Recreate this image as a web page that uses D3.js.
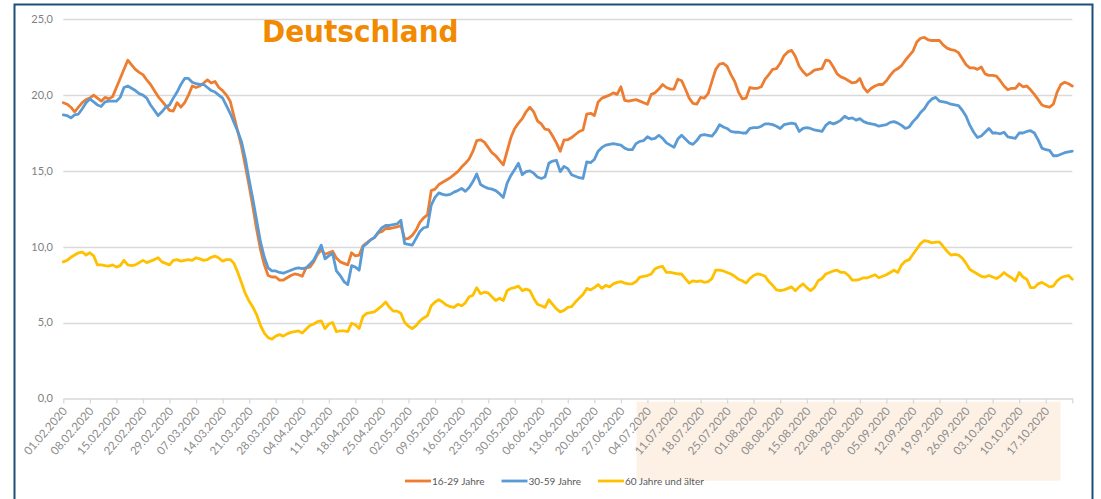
<!DOCTYPE html>
<html>
<head>
<meta charset="utf-8">
<script src="https://cdn.jsdelivr.net/npm/d3@7"></script>
<style>
  body { margin: 0; background: #fff; }
  svg { display: block; }
</style>
</head>
<body>
<svg id="chart1" width="1101" height="499"></svg>
<script>
// categories: one point per day, starting 01.02.2020
var startDate = new Date(2020, 1, 1);

var tickLabels = ["01.02.2020","08.02.2020","15.02.2020","22.02.2020","29.02.2020","07.03.2020",
	"14.03.2020","21.03.2020","28.03.2020","04.04.2020","11.04.2020","18.04.2020","25.04.2020",
	"02.05.2020","09.05.2020","16.05.2020","23.05.2020","30.05.2020","06.06.2020","13.06.2020",
	"20.06.2020","27.06.2020","04.07.2020","11.07.2020","18.07.2020","25.07.2020","01.08.2020",
	"08.08.2020","15.08.2020","22.08.2020","29.08.2020","05.09.2020","12.09.2020","19.09.2020",
	"26.09.2020","03.10.2020","10.10.2020","17.10.2020"];

var yTicks = [0, 5, 10, 15, 20, 25];

var seriesNames = ["16-29 Jahre", "30-59 Jahre", "60 Jahre und älter"];
var seriesColors = ["#ed7d31", "#5b9bd5", "#ffc000"];

var age16to29 = [
	19.5,19.4,19.2,18.9,19.2,19.5,19.7,19.8,20.0,19.8,
	19.6,19.85,19.75,19.9,20.5,21.1,21.7,22.3,22.0,21.7,
	21.5,21.35,21.0,20.7,20.3,19.9,19.6,19.3,19.0,18.95,
	19.5,19.2,19.5,20.0,20.6,20.5,20.6,20.8,21.0,20.8,
	20.9,20.5,20.3,20.0,19.6,18.6,17.6,16.6,15.3,14.0,
	12.6,11.1,9.8,8.8,8.1,8.0,8.0,7.8,7.8,7.95,
	8.1,8.2,8.15,8.05,8.6,8.65,9.0,9.5,9.8,9.5,
	9.6,9.7,9.25,9.0,8.9,8.8,9.6,9.4,9.45,10.05,
	10.25,10.45,10.6,10.9,11.0,11.2,11.2,11.25,11.3,11.4,
	10.5,10.55,10.75,11.1,11.6,11.9,12.1,13.7,13.8,14.1,
	14.25,14.4,14.55,14.75,14.95,15.25,15.5,15.8,16.3,17.0,
	17.05,16.9,16.55,16.2,16.0,15.7,15.4,16.3,17.2,17.8,
	18.15,18.45,18.9,19.2,18.9,18.3,18.1,17.75,17.7,17.3,
	16.85,16.3,17.05,17.05,17.2,17.4,17.6,17.7,18.75,18.8,
	18.65,19.55,19.8,19.9,20.0,20.15,20.05,20.55,19.65,19.6,
	19.65,19.7,19.6,19.5,19.4,20.05,20.15,20.4,20.7,20.5,
	20.4,20.4,21.05,20.95,20.4,19.8,19.45,19.4,19.85,19.8,
	20.1,20.9,21.7,22.05,22.1,21.9,21.35,20.9,20.2,19.75,
	19.8,20.5,20.45,20.45,20.55,21.05,21.35,21.7,21.75,22.1,
	22.6,22.85,22.95,22.55,21.9,21.55,21.3,21.45,21.65,21.7,
	21.75,22.3,22.25,21.85,21.4,21.2,21.1,20.95,20.8,20.85,
	21.1,20.5,20.2,20.45,20.6,20.7,20.7,20.95,21.3,21.6,
	21.75,21.95,22.3,22.6,22.9,23.5,23.75,23.8,23.65,23.6,
	23.6,23.6,23.3,23.1,23.0,22.95,22.8,22.4,22.0,21.8,
	21.8,21.7,21.85,21.4,21.3,21.3,21.25,20.95,20.6,20.35,
	20.45,20.45,20.75,20.55,20.6,20.35,20.05,19.7,19.35,19.25,
	19.2,19.4,20.2,20.7,20.85,20.75,20.6
];

var age30to59 = [
	18.7,18.65,18.5,18.7,18.75,19.1,19.5,19.75,19.55,19.35,
	19.25,19.55,19.6,19.6,19.6,19.85,20.5,20.6,20.45,20.3,
	20.1,20.0,19.8,19.35,19.0,18.65,18.9,19.2,19.35,19.8,
	20.2,20.7,21.1,21.1,20.85,20.75,20.7,20.7,20.5,20.3,
	20.2,20.0,19.8,19.3,18.8,18.2,17.6,16.9,15.8,14.4,
	13.1,11.7,10.3,9.3,8.6,8.4,8.4,8.3,8.25,8.35,
	8.45,8.55,8.6,8.55,8.6,8.85,9.1,9.6,10.1,9.2,
	9.4,9.55,8.4,8.1,7.7,7.5,8.75,8.65,8.45,10.0,
	10.2,10.45,10.6,10.95,11.25,11.4,11.4,11.45,11.5,11.75,
	10.2,10.15,10.1,10.55,11.0,11.25,11.3,12.75,13.25,13.55,
	13.45,13.4,13.45,13.6,13.7,13.85,13.65,13.9,14.3,14.8,
	14.1,13.95,13.85,13.8,13.7,13.5,13.25,14.2,14.7,15.1,
	15.5,14.75,14.95,15.0,14.85,14.6,14.5,14.6,15.5,15.65,
	15.7,14.95,15.3,15.15,14.75,14.65,14.55,14.5,15.6,15.55,
	15.75,16.3,16.55,16.7,16.75,16.8,16.75,16.7,16.5,16.4,
	16.4,16.8,16.95,17.0,17.25,17.1,17.15,17.35,17.15,16.85,
	16.7,16.55,17.1,17.35,17.1,16.85,16.75,17.0,17.35,17.4,
	17.35,17.3,17.6,18.05,17.9,17.8,17.6,17.55,17.55,17.5,
	17.5,17.8,17.85,17.85,17.95,18.1,18.1,18.05,17.95,17.8,
	18.05,18.1,18.15,18.1,17.6,17.8,17.85,17.8,17.7,17.65,
	17.6,18.0,18.2,18.1,18.2,18.35,18.6,18.45,18.5,18.35,
	18.45,18.25,18.15,18.1,18.05,17.95,18.0,18.05,18.2,18.25,
	18.15,18.0,17.8,17.9,18.25,18.5,18.85,19.1,19.5,19.75,
	19.85,19.6,19.55,19.5,19.4,19.35,19.3,19.0,18.6,18.0,
	17.55,17.2,17.3,17.55,17.8,17.5,17.5,17.45,17.55,17.25,
	17.2,17.15,17.5,17.5,17.6,17.65,17.5,17.05,16.5,16.4,
	16.35,16.0,16.0,16.1,16.2,16.25,16.3
];

var age60plus = [
	9.0,9.1,9.3,9.45,9.6,9.65,9.45,9.6,9.4,8.8,
	8.8,8.75,8.72,8.8,8.65,8.75,9.1,8.8,8.75,8.8,
	8.95,9.1,8.95,9.05,9.15,9.27,9.0,8.9,8.8,9.1,
	9.15,9.05,9.1,9.15,9.1,9.27,9.2,9.1,9.15,9.3,
	9.38,9.25,9.05,9.15,9.15,8.9,8.3,7.6,6.9,6.4,
	6.0,5.5,4.8,4.3,4.0,3.9,4.1,4.2,4.1,4.25,
	4.35,4.4,4.45,4.3,4.55,4.8,4.9,5.05,5.1,4.6,
	4.9,5.0,4.4,4.45,4.45,4.4,4.95,4.85,4.6,5.4,
	5.6,5.65,5.7,5.9,6.1,6.35,6.0,5.75,5.75,5.6,
	5.0,4.75,4.6,4.8,5.1,5.3,5.45,6.1,6.35,6.5,
	6.35,6.15,6.05,6.0,6.2,6.1,6.3,6.7,6.8,7.3,
	6.9,7.0,6.95,6.7,6.45,6.6,6.45,7.1,7.25,7.3,
	7.4,7.1,7.2,7.1,6.6,6.2,6.1,6.0,6.5,6.2,
	5.9,5.7,5.8,6.0,6.05,6.35,6.6,6.85,7.25,7.15,
	7.3,7.5,7.25,7.45,7.35,7.55,7.65,7.7,7.6,7.55,
	7.55,7.7,8.0,8.05,8.1,8.2,8.55,8.65,8.7,8.3,
	8.3,8.25,8.2,8.2,7.9,7.6,7.75,7.7,7.75,7.65,
	7.7,7.9,8.45,8.45,8.4,8.3,8.2,8.05,7.85,7.75,
	7.6,7.9,8.1,8.2,8.15,8.05,7.7,7.45,7.15,7.1,
	7.15,7.25,7.35,7.1,7.35,7.55,7.3,7.1,7.3,7.75,
	7.9,8.2,8.3,8.4,8.45,8.3,8.3,8.1,7.8,7.8,
	7.85,7.95,7.95,8.05,8.15,7.95,8.05,8.15,8.3,8.45,
	8.3,8.8,9.05,9.15,9.5,9.85,10.2,10.4,10.35,10.25,
	10.3,10.3,10.0,9.7,9.45,9.5,9.45,9.25,8.9,8.5,
	8.35,8.2,8.05,8.0,8.1,8.0,7.9,8.05,8.3,8.1,
	7.95,7.75,8.3,8.0,7.85,7.3,7.3,7.55,7.65,7.5,
	7.35,7.4,7.75,7.95,8.05,8.1,7.85
];

// shaded period on the axis: 01.07.2020 onwards
var shadeStart = new Date(2020, 6, 1);

draw_chart();

function draw_chart() {
	var svg = d3.select('#chart1');
	svg.selectAll("*").remove();

	var series = [age16to29, age30to59, age60plus];
	var nDays = d3.max(series, function (s) { return s.length; });

	var plot = {left: 63.3, right: 1072.3, top: 19.3, bottom: 398.3};

	var x = d3.scaleLinear()
		.domain([0, nDays - 1])
		.range([plot.left, plot.right]);

	var y = d3.scaleLinear()
		.domain([0, 25])
		.range([plot.bottom, plot.top]);

	var fmtY = function (v) { return d3.format(".1f")(v).replace(".", ","); };

	// outer frame
	svg.append("rect")
		.attr("x", 14.5)
		.attr("y", 4.5)
		.attr("width", 1078)
		.attr("height", 510)
		.style("fill", "none")
		.style("stroke", "#1f4e79")
		.style("stroke-width", 2)
		;

	// peach highlight under the axis labels
	var shadeIdx = d3.timeDay.count(startDate, shadeStart);
	svg.append("rect")
		.attr("x", x(shadeIdx) + 0.5)
		.attr("y", 401.7)
		.attr("width", 1060 - x(shadeIdx))
		.attr("height", 79)
		.style("fill", "#fdf1e6")
		;

	// gridlines
	svg.append("g")
		.selectAll("line")
		.data(yTicks.filter(function (v) { return v > 0; }))
		.enter().append("line")
		.attr("x1", plot.left)
		.attr("x2", plot.right)
		.attr("y1", function (d) { return Math.round(y(d)) + 0.5; })
		.attr("y2", function (d) { return Math.round(y(d)) + 0.5; })
		.style("stroke", "#d9d9d9")
		.style("stroke-width", 1.3)
		;

	// y axis labels
	svg.append("g")
		.selectAll("text")
		.data(yTicks)
		.enter().append("text")
		.attr("x", 53)
		.attr("y", function (d) { return y(d); })
		.attr("dy", "0.35em")
		.attr("text-anchor", "end")
		.attr("font-family", "Lato, 'Open Sans', sans-serif")
		.attr("font-size", "11px")
		.attr("fill", "#7f7f7f")
		.text(fmtY)
		;

	// x axis
	var tickIdx = tickLabels.map(function (l, i) { return i * 7; }).concat([nDays - 1]);
	var xAxis = d3.axisBottom(x)
		.tickValues(tickIdx)
		.tickSize(5)
		.tickSizeOuter(0)
		.tickFormat(function (i) { return tickLabels[i / 7] || ""; });

	var gx = svg.append("g")
		.attr("transform", "translate(0," + (Math.round(plot.bottom) + 0.5) + ")")
		.call(xAxis);
	gx.select(".domain").style("stroke", "#d9d9d9").style("stroke-width", 1.3);
	gx.selectAll(".tick line").style("stroke", "#d9d9d9").style("stroke-width", 1.3);
	gx.selectAll(".tick text")
		.attr("font-family", "Lato, 'Open Sans', sans-serif")
		.attr("font-size", "11.5px")
		.attr("fill", "#8c8c8c")
		.attr("text-anchor", "end")
		.attr("dx", 0)
		.attr("dy", 0)
		.attr("y", 0)
		.attr("transform", "translate(4,13) rotate(-49)")
		;

	// lines
	var line = d3.line()
		.x(function (d, i) { return x(i); })
		.y(function (d) { return y(d); });

	svg.append("g")
		.selectAll("path")
		.data(series)
		.enter().append("path")
		.attr("d", line)
		.style("fill", "none")
		.style("stroke", function (d, i) { return seriesColors[i]; })
		.style("stroke-width", 2.8)
		.style("stroke-linejoin", "round")
		.style("stroke-linecap", "round")
		;

	// title
	svg.append("text")
		.attr("x", 262)
		.attr("y", 42)
		.attr("font-family", "'DejaVu Sans Condensed', 'DejaVu Sans', sans-serif")
		.attr("font-weight", "bold")
		.attr("font-size", "31px")
		.attr("fill", "#f18a00")
		.text("Deutschland")
		;

	// legend
	var legendX = [405, 501.5, 598];
	var legend = svg.append("g")
		.selectAll("g")
		.data(seriesNames)
		.enter().append("g")
		.attr("transform", function (d, i) { return "translate(" + legendX[i] + ",481)"; });

	legend.append("line")
		.attr("x1", 0)
		.attr("x2", 26)
		.attr("y1", 0)
		.attr("y2", 0)
		.style("stroke", function (d, i) { return seriesColors[i]; })
		.style("stroke-width", 2.8)
		;

	legend.append("text")
		.attr("x", 27)
		.attr("y", 0)
		.attr("dy", "0.35em")
		.attr("font-family", "Lato, 'Open Sans', sans-serif")
		.attr("font-size", "10px")
		.attr("fill", "#595959")
		.text(function (d) { return d; })
		;
}
</script>
</body>
</html>
